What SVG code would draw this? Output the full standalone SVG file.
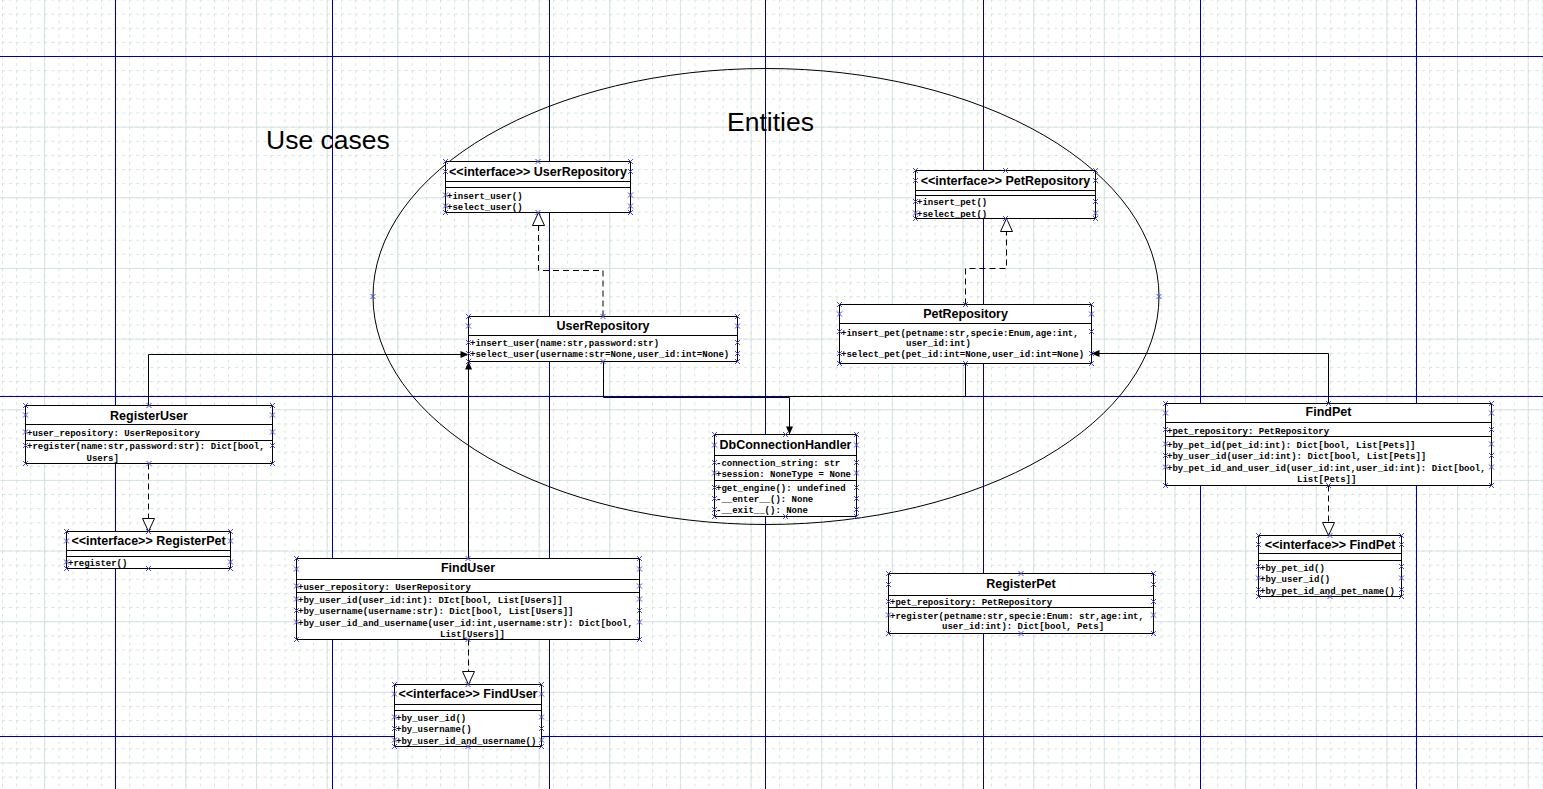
<svg xmlns="http://www.w3.org/2000/svg" xmlns:xlink="http://www.w3.org/1999/xlink" width="1543" height="789" viewBox="0 0 1543 789">
  <style>
    .box{fill:#fff;stroke:#000;stroke-width:1}
    .sep{stroke:#000;stroke-width:1}
    .t{font-family:"Liberation Sans",Arial,sans-serif;font-weight:bold;font-size:12.5px;text-anchor:middle;fill:#000}
    .m{font-family:"Liberation Mono","Courier New",monospace;font-size:9px;font-weight:bold;fill:#000}
    .big{font-family:"Liberation Sans",Arial,sans-serif;font-size:26.5px;fill:#000}
    .c{fill:none;stroke:#000;stroke-width:1}
    .d{stroke-dasharray:6 4}
    .hx{stroke:#4646e6;stroke-width:1;fill:none}
    .lane{stroke:#0000a0;stroke-width:1}
  </style>
  <defs>
    <pattern id="gMinor" x="2" y="-0.5" width="14.13" height="14.13" patternUnits="userSpaceOnUse">
      <path d="M0.5,0V14.13M0,0.5H14.13" fill="none" stroke="#d3e2e2" stroke-dasharray="3 4"/>
    </pattern>
    <pattern id="gMajor" x="44" y="56" width="70.65" height="70.65" patternUnits="userSpaceOnUse">
      <path d="M0.5,0V70.65M0,0.5H70.65" fill="none" stroke="#d6e2e2"/>
    </pattern>
    <marker id="arrow" markerUnits="userSpaceOnUse" markerWidth="9" markerHeight="8" refX="8" refY="3.5" orient="auto" overflow="visible">
      <path d="M0,0L8,3.5L0,7z" fill="#000" stroke="none"/>
    </marker>
    <marker id="realize" markerUnits="userSpaceOnUse" markerWidth="14" markerHeight="13" refX="13" refY="6" orient="auto" overflow="visible">
      <path d="M0,0L13,6L0,12z" fill="#fff" stroke="#000" stroke-dasharray="none"/>
    </marker>
    <path id="h" d="M-2.5,-2.5L2.5,2.5M-2.5,2.5L2.5,-2.5"/>
  </defs>

  <!-- canvas and grid -->
  <rect width="1543" height="789" fill="#fff"/>
  <rect width="1543" height="789" fill="url(#gMinor)"/>
  <rect width="1543" height="789" fill="url(#gMajor)"/>

  <!-- swimlane guides -->
  <g id="lanes">
    <path class="lane" d="M115.5,0V789M332.5,0V789M549.5,0V789M765.5,0V789M983.5,0V789M1200.5,0V789M1416.5,0V789"/>
    <path class="lane" d="M0,56.5H1543M0,396.5H1543M0,736.5H1543"/>
  </g>

  <!-- entities boundary -->
  <g id="entities-boundary">
    <ellipse cx="766" cy="296.5" rx="393" ry="228" fill="none" stroke="#000"/>
    <g class="hx">
      <use href="#h" x="373" y="296.5"/><use href="#h" x="1159" y="296.5"/>
    </g>
  </g>

  <g id="labels">
    <text class="big" x="266" y="149">Use cases</text>
    <text class="big" x="727" y="131">Entities</text>
  </g>

  <!-- connectors -->
  <g id="connectors">
    <path class="c d" d="M603,316.5V270.5H538.5V212.5" marker-end="url(#realize)"/>
    <path class="c d" d="M965.5,304.5V268.5H1006.5V218.5" marker-end="url(#realize)"/>
    <path class="c" d="M148.5,405.5V354.5H468.5" marker-end="url(#arrow)"/>
    <path class="c d" d="M148.5,463.5V531.5" marker-end="url(#realize)"/>
    <path class="c" d="M468.5,558.5V361.5" marker-end="url(#arrow)"/>
    <path class="c d" d="M468.5,639.5V684.5" marker-end="url(#realize)"/>
    <path class="c" d="M603.5,361.5V397.5H789.5V434.5" marker-end="url(#arrow)"/>
    <path class="c" d="M965.5,363.5V396.5H789.5"/>
    <path class="c" d="M1328.5,403.5V353.5H1091.5" marker-end="url(#arrow)"/>
    <path class="c d" d="M1328.5,485.5V535.5" marker-end="url(#realize)"/>
  </g>

  <!-- <<interface>> UserRepository -->
  <g id="iUserRepository">
    <rect class="box" x="445.5" y="161.5" width="185" height="51"/>
    <path class="sep" d="M445.5,181.5H630.5M445.5,187.5H630.5"/>
    <text class="t" x="538" y="175.5">&lt;&lt;interface&gt;&gt; UserRepository</text>
    <text class="m" x="447" y="198.5">+insert_user()</text>
    <text class="m" x="447" y="209.5">+select_user()</text>
    <g class="hx">
      <use href="#h" x="445.5" y="161.5"/><use href="#h" x="538" y="161.5"/><use href="#h" x="630.5" y="161.5"/>
      <use href="#h" x="445.5" y="212.5"/><use href="#h" x="538" y="212.5"/><use href="#h" x="630.5" y="212.5"/>
      <use href="#h" x="445.5" y="171.5"/><use href="#h" x="630.5" y="171.5"/>
      <use href="#h" x="445.5" y="195"/><use href="#h" x="630.5" y="195"/>
      <use href="#h" x="445.5" y="206"/><use href="#h" x="630.5" y="206"/>
    </g>
  </g>

  <!-- <<interface>> PetRepository -->
  <g id="iPetRepository">
    <rect class="box" x="915.5" y="170.5" width="180" height="48"/>
    <path class="sep" d="M915.5,190.5H1095.5M915.5,195.5H1095.5"/>
    <text class="t" x="1005.5" y="185">&lt;&lt;interface&gt;&gt; PetRepository</text>
    <text class="m" x="917" y="205">+insert_pet()</text>
    <text class="m" x="917" y="216.5">+select_pet()</text>
    <g class="hx">
      <use href="#h" x="915.5" y="170.5"/><use href="#h" x="1005.5" y="170.5"/><use href="#h" x="1095.5" y="170.5"/>
      <use href="#h" x="915.5" y="218.5"/><use href="#h" x="1005.5" y="218.5"/><use href="#h" x="1095.5" y="218.5"/>
      <use href="#h" x="915.5" y="180.5"/><use href="#h" x="1095.5" y="180.5"/>
      <use href="#h" x="915.5" y="201.5"/><use href="#h" x="1095.5" y="201.5"/>
      <use href="#h" x="915.5" y="213"/><use href="#h" x="1095.5" y="213"/>
    </g>
  </g>

  <!-- UserRepository -->
  <g id="UserRepository">
    <rect class="box" x="468.5" y="316.5" width="269" height="45"/>
    <path class="sep" d="M468.5,335.5H737.5"/>
    <text class="t" x="603" y="330">UserRepository</text>
    <text class="m" x="470" y="346">+insert_user(name:str,password:str)</text>
    <text class="m" x="470" y="357">+select_user(username:str=None,user_id:int=None)</text>
    <g class="hx">
      <use href="#h" x="468.5" y="316.5"/><use href="#h" x="603" y="316.5"/><use href="#h" x="737.5" y="316.5"/>
      <use href="#h" x="468.5" y="361.5"/><use href="#h" x="603" y="361.5"/><use href="#h" x="737.5" y="361.5"/>
      <use href="#h" x="468.5" y="326"/><use href="#h" x="737.5" y="326"/>
      <use href="#h" x="468.5" y="342.5"/><use href="#h" x="737.5" y="342.5"/>
      <use href="#h" x="468.5" y="353.5"/><use href="#h" x="737.5" y="353.5"/>
    </g>
  </g>

  <!-- PetRepository -->
  <g id="PetRepository">
    <rect class="box" x="839.5" y="304.5" width="252" height="59"/>
    <path class="sep" d="M839.5,323.5H1091.5"/>
    <text class="t" x="965.5" y="317.5">PetRepository</text>
    <text class="m" x="841" y="335.5">+insert_pet(petname:str,specie:Enum,age:int,</text>
    <text class="m" x="906" y="345.5">user_id:int)</text>
    <text class="m" x="841" y="357">+select_pet(pet_id:int=None,user_id:int=None)</text>
    <g class="hx">
      <use href="#h" x="839.5" y="304.5"/><use href="#h" x="965.5" y="304.5"/><use href="#h" x="1091.5" y="304.5"/>
      <use href="#h" x="839.5" y="363.5"/><use href="#h" x="965.5" y="363.5"/><use href="#h" x="1091.5" y="363.5"/>
      <use href="#h" x="839.5" y="314"/><use href="#h" x="1091.5" y="314"/>
      <use href="#h" x="839.5" y="331.5"/><use href="#h" x="1091.5" y="331.5"/>
      <use href="#h" x="839.5" y="353.5"/><use href="#h" x="1091.5" y="353.5"/>
    </g>
  </g>

  <!-- RegisterUser -->
  <g id="RegisterUser">
    <rect class="box" x="25.5" y="405.5" width="247" height="58"/>
    <path class="sep" d="M25.5,424.5H272.5M25.5,440.5H272.5"/>
    <text class="t" x="149" y="420">RegisterUser</text>
    <text class="m" x="27" y="435.5">+user_repository: UserRepository</text>
    <text class="m" x="27" y="449">+register(name:str,password:str): Dict[bool,</text>
    <text class="m" x="86.5" y="460.5">Users]</text>
    <g class="hx">
      <use href="#h" x="25.5" y="405.5"/><use href="#h" x="149" y="405.5"/><use href="#h" x="272.5" y="405.5"/>
      <use href="#h" x="25.5" y="463.5"/><use href="#h" x="149" y="463.5"/><use href="#h" x="272.5" y="463.5"/>
      <use href="#h" x="25.5" y="415"/><use href="#h" x="272.5" y="415"/>
      <use href="#h" x="25.5" y="432"/><use href="#h" x="272.5" y="432"/>
      <use href="#h" x="25.5" y="445.5"/><use href="#h" x="272.5" y="445.5"/>
    </g>
  </g>

  <!-- <<interface>> RegisterPet -->
  <g id="iRegisterPet">
    <rect class="box" x="66.5" y="531.5" width="164" height="37"/>
    <path class="sep" d="M66.5,550.5H230.5M66.5,556.5H230.5"/>
    <text class="t" x="148.5" y="544.5">&lt;&lt;interface&gt;&gt; RegisterPet</text>
    <text class="m" x="68" y="565.5">+register()</text>
    <g class="hx">
      <use href="#h" x="66.5" y="531.5"/><use href="#h" x="148.5" y="531.5"/><use href="#h" x="230.5" y="531.5"/>
      <use href="#h" x="66.5" y="568.5"/><use href="#h" x="148.5" y="568.5"/><use href="#h" x="230.5" y="568.5"/>
      <use href="#h" x="66.5" y="541"/><use href="#h" x="230.5" y="541"/>
      <use href="#h" x="66.5" y="562"/><use href="#h" x="230.5" y="562"/>
    </g>
  </g>

  <!-- DbConnectionHandler -->
  <g id="DbConnectionHandler">
    <rect class="box" x="714.5" y="434.5" width="142" height="82"/>
    <path class="sep" d="M714.5,455.5H856.5M714.5,480.5H856.5"/>
    <text class="t" x="785.5" y="448.5">DbConnectionHandler</text>
    <text class="m" x="716" y="466">-connection_string: str</text>
    <text class="m" x="716" y="476.5">+session: NoneType = None</text>
    <text class="m" x="716" y="491">+get_engine(): undefined</text>
    <text class="m" x="716" y="502">-__enter__(): None</text>
    <text class="m" x="716" y="513">-__exit__(): None</text>
    <g class="hx">
      <use href="#h" x="714.5" y="434.5"/><use href="#h" x="785.5" y="434.5"/><use href="#h" x="856.5" y="434.5"/>
      <use href="#h" x="714.5" y="516.5"/><use href="#h" x="785.5" y="516.5"/><use href="#h" x="856.5" y="516.5"/>
      <use href="#h" x="714.5" y="445"/><use href="#h" x="856.5" y="445"/>
      <use href="#h" x="714.5" y="462.5"/><use href="#h" x="856.5" y="462.5"/>
      <use href="#h" x="714.5" y="473"/><use href="#h" x="856.5" y="473"/>
      <use href="#h" x="714.5" y="487.5"/><use href="#h" x="856.5" y="487.5"/>
      <use href="#h" x="714.5" y="498.5"/><use href="#h" x="856.5" y="498.5"/>
      <use href="#h" x="714.5" y="509.5"/><use href="#h" x="856.5" y="509.5"/>
    </g>
  </g>

  <!-- FindPet -->
  <g id="FindPet">
    <rect class="box" x="1165.5" y="403.5" width="326" height="82"/>
    <path class="sep" d="M1165.5,422.5H1491.5M1165.5,436.5H1491.5"/>
    <text class="t" x="1328.5" y="416">FindPet</text>
    <text class="m" x="1167" y="434">+pet_repository: PetRepository</text>
    <text class="m" x="1167" y="447.5">+by_pet_id(pet_id:int): Dict[bool, List[Pets]]</text>
    <text class="m" x="1167" y="459">+by_user_id(user_id:int): Dict[bool, List[Pets]]</text>
    <text class="m" x="1167" y="470.5">+by_pet_id_and_user_id(user_id:int,user_id:int): Dict[bool,</text>
    <text class="m" x="1297" y="482">List[Pets]]</text>
    <g class="hx">
      <use href="#h" x="1165.5" y="403.5"/><use href="#h" x="1328.5" y="403.5"/><use href="#h" x="1491.5" y="403.5"/>
      <use href="#h" x="1165.5" y="485.5"/><use href="#h" x="1328.5" y="485.5"/><use href="#h" x="1491.5" y="485.5"/>
      <use href="#h" x="1165.5" y="413"/><use href="#h" x="1491.5" y="413"/>
      <use href="#h" x="1165.5" y="429.5"/><use href="#h" x="1491.5" y="429.5"/>
      <use href="#h" x="1165.5" y="444"/><use href="#h" x="1491.5" y="444"/>
      <use href="#h" x="1165.5" y="455.5"/><use href="#h" x="1491.5" y="455.5"/>
      <use href="#h" x="1165.5" y="467"/><use href="#h" x="1491.5" y="467"/>
    </g>
  </g>

  <!-- <<interface>> FindPet -->
  <g id="iFindPet">
    <rect class="box" x="1258.5" y="535.5" width="143" height="61"/>
    <path class="sep" d="M1258.5,553.5H1401.5M1258.5,560.5H1401.5"/>
    <text class="t" x="1330" y="548.5">&lt;&lt;interface&gt;&gt; FindPet</text>
    <text class="m" x="1260" y="570.5">+by_pet_id()</text>
    <text class="m" x="1260" y="582">+by_user_id()</text>
    <text class="m" x="1260" y="594">+by_pet_id_and_pet_name()</text>
    <g class="hx">
      <use href="#h" x="1258.5" y="535.5"/><use href="#h" x="1330" y="535.5"/><use href="#h" x="1401.5" y="535.5"/>
      <use href="#h" x="1258.5" y="596.5"/><use href="#h" x="1330" y="596.5"/><use href="#h" x="1401.5" y="596.5"/>
      <use href="#h" x="1258.5" y="544.5"/><use href="#h" x="1401.5" y="544.5"/>
      <use href="#h" x="1258.5" y="566.5"/><use href="#h" x="1401.5" y="566.5"/>
      <use href="#h" x="1258.5" y="578"/><use href="#h" x="1401.5" y="578"/>
      <use href="#h" x="1258.5" y="589.5"/><use href="#h" x="1401.5" y="589.5"/>
    </g>
  </g>

  <!-- FindUser -->
  <g id="FindUser">
    <rect class="box" x="296.5" y="558.5" width="343" height="81"/>
    <path class="sep" d="M296.5,579.5H639.5M296.5,592.5H639.5"/>
    <text class="t" x="468" y="572">FindUser</text>
    <text class="m" x="298" y="590">+user_repository: UserRepository</text>
    <text class="m" x="298" y="602.5">+by_user_id(user_id:int): DIct[bool, List[Users]]</text>
    <text class="m" x="298" y="614">+by_username(username:str): Dict[bool, List[Users]]</text>
    <text class="m" x="298" y="625.5">+by_user_id_and_username(user_id:int,username:str): Dict[bool,</text>
    <text class="m" x="440" y="637">List[Users]]</text>
    <g class="hx">
      <use href="#h" x="296.5" y="558.5"/><use href="#h" x="468" y="558.5"/><use href="#h" x="639.5" y="558.5"/>
      <use href="#h" x="296.5" y="639.5"/><use href="#h" x="468" y="639.5"/><use href="#h" x="639.5" y="639.5"/>
      <use href="#h" x="296.5" y="569"/><use href="#h" x="639.5" y="569"/>
      <use href="#h" x="296.5" y="586"/><use href="#h" x="639.5" y="586"/>
      <use href="#h" x="296.5" y="599"/><use href="#h" x="639.5" y="599"/>
      <use href="#h" x="296.5" y="610.5"/><use href="#h" x="639.5" y="610.5"/>
      <use href="#h" x="296.5" y="622"/><use href="#h" x="639.5" y="622"/>
    </g>
  </g>

  <!-- <<interface>> FindUser -->
  <g id="iFindUser">
    <rect class="box" x="394.5" y="684.5" width="147" height="62"/>
    <path class="sep" d="M394.5,704.5H541.5M394.5,710.5H541.5"/>
    <text class="t" x="468" y="698">&lt;&lt;interface&gt;&gt; FindUser</text>
    <text class="m" x="396" y="720.5">+by_user_id()</text>
    <text class="m" x="396" y="732">+by_username()</text>
    <text class="m" x="396" y="743.5">+by_user_id_and_username()</text>
    <g class="hx">
      <use href="#h" x="394.5" y="684.5"/><use href="#h" x="468" y="684.5"/><use href="#h" x="541.5" y="684.5"/>
      <use href="#h" x="394.5" y="746.5"/><use href="#h" x="468" y="746.5"/><use href="#h" x="541.5" y="746.5"/>
      <use href="#h" x="394.5" y="694"/><use href="#h" x="541.5" y="694"/>
      <use href="#h" x="394.5" y="717"/><use href="#h" x="541.5" y="717"/>
      <use href="#h" x="394.5" y="728.5"/><use href="#h" x="541.5" y="728.5"/>
      <use href="#h" x="394.5" y="740"/><use href="#h" x="541.5" y="740"/>
    </g>
  </g>

  <!-- RegisterPet -->
  <g id="RegisterPet">
    <rect class="box" x="888.5" y="573.5" width="265" height="60"/>
    <path class="sep" d="M888.5,595.5H1153.5M888.5,607.5H1153.5"/>
    <text class="t" x="1021" y="587.5">RegisterPet</text>
    <text class="m" x="890" y="605">+pet_repository: PetRepository</text>
    <text class="m" x="890" y="619">+register(petname:str,specie:Enum: str,age:int,</text>
    <text class="m" x="942" y="629">user_id:int): Dict[bool, Pets]</text>
    <g class="hx">
      <use href="#h" x="888.5" y="573.5"/><use href="#h" x="1021" y="573.5"/><use href="#h" x="1153.5" y="573.5"/>
      <use href="#h" x="888.5" y="633.5"/><use href="#h" x="1021" y="633.5"/><use href="#h" x="1153.5" y="633.5"/>
      <use href="#h" x="888.5" y="584.5"/><use href="#h" x="1153.5" y="584.5"/>
      <use href="#h" x="888.5" y="601.5"/><use href="#h" x="1153.5" y="601.5"/>
      <use href="#h" x="888.5" y="615"/><use href="#h" x="1153.5" y="615"/>
    </g>
  </g>
</svg>
